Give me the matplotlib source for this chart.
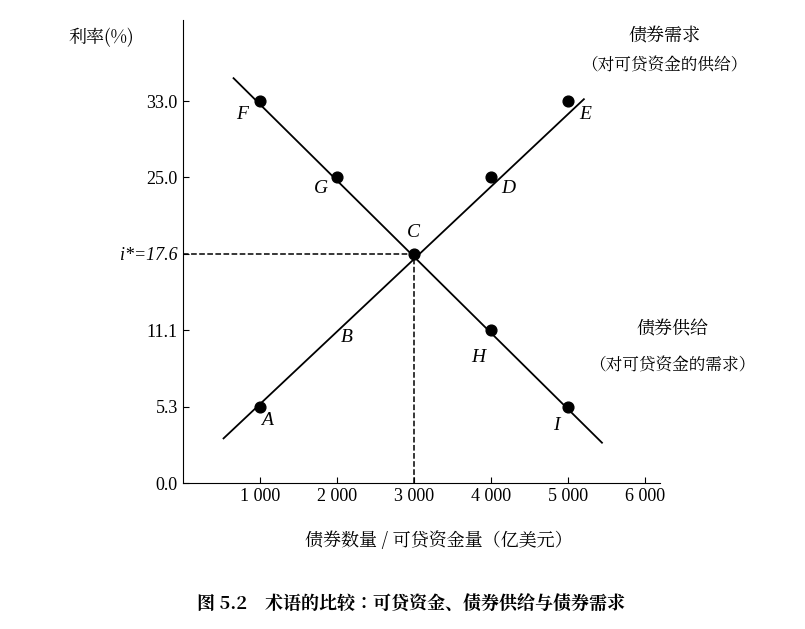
import numpy as np
import matplotlib
matplotlib.use("Agg")
import matplotlib.pyplot as plt
from matplotlib import font_manager

# ---------------- data ----------------
x_ticks = [1000, 2000, 3000, 4000, 5000, 6000]
x_tick_labels = ["1 000", "2 000", "3 000", "4 000", "5 000", "6 000"]
rate_ticks = [0.0, 5.3, 11.1, 17.6, 25.0, 33.0]
rate_tick_labels = ["0.0", "5.3", "11.1", "i*=17.6", "25.0", "33.0"]

demand_names = ["A", "C", "D", "E"]
demand_qty = [1000, 3000, 4000, 5000]
demand_rate = [5.3, 17.6, 25.0, 33.0]
demand_ends_qty = [530, 5210]
demand_ends_rate = [3.1, 33.2]

supply_names = ["F", "G", "H", "I"]
supply_qty = [1000, 2000, 4000, 5000]
supply_rate = [33.0, 25.0, 11.1, 5.3]
supply_ends_qty = [660, 5445]
supply_ends_rate = [35.4, 2.8]

eq_qty, eq_rate = 3000, 17.6

# the rate axis is drawn with equally spaced ticks (not linear in value)
tick_pos = np.arange(len(rate_ticks))
def ry(v):
    v = np.asarray(v, dtype=float)
    return np.where(v > 33.0, 5 + (v - 33.0) / 8.0, np.interp(v, rate_ticks, tick_pos))

# find an installed CJK font
cjk = "DejaVu Sans"
for f in font_manager.fontManager.ttflist:
    if "CJK" in f.name:
        cjk = f.name
        if "SC" in f.name:
            break
serif = "Liberation Serif"

fig = plt.figure(figsize=(8.05, 6.29), dpi=100)
ax = fig.add_axes([0.227, 0.232, 0.593, 0.736])
ax.set_xlim(0, 6200)
ax.set_ylim(0, 6.06)

ax.plot(demand_ends_qty, ry(demand_ends_rate), color="black", lw=1.3)
ax.plot(supply_ends_qty, ry(supply_ends_rate), color="black", lw=1.3)
ax.scatter(demand_qty, ry(demand_rate), s=60, color="black", zorder=3)
ax.scatter(supply_qty, ry(supply_rate), s=60, color="black", zorder=3)

ax.plot([0, eq_qty], [ry(eq_rate)] * 2, ls="--", color="black", lw=1.1)
ax.plot([eq_qty, eq_qty], [0, ry(eq_rate)], ls="--", color="black", lw=1.1)

lab = dict(fontfamily=serif, fontstyle="italic", fontsize=14)
off = {"A": (100, -0.18), "C": (0, 0.28), "D": (230, -0.15), "E": (230, -0.18),
       "F": (-230, -0.18), "G": (-200, -0.15), "H": (-160, -0.35), "I": (-150, -0.25)}
for n, q, r in zip(demand_names, demand_qty, demand_rate):
    dx, dy = off[n]
    ax.text(q + dx, ry(r) + dy, n, ha="center", va="center", **lab)
for n, q, r in zip(supply_names, supply_qty, supply_rate):
    dx, dy = off[n]
    ax.text(q + dx, ry(r) + dy, n, ha="center", va="center", **lab)
ax.text(2130, ry(11.1) - 0.1, "B", ha="center", va="center", **lab)

ax.set_xticks(x_ticks)
ax.set_xticklabels(x_tick_labels, fontfamily=serif, fontsize=13)
ax.set_yticks(tick_pos)
ax.set_yticklabels(rate_tick_labels, fontfamily=serif, fontsize=13)
ax.get_yticklabels()[3].set_fontstyle("italic")
ax.tick_params(direction="in", length=4)
for s in ["top", "right"]:
    ax.spines[s].set_visible(False)

fig.text(0.085, 0.94, "利率(%)", fontfamily=cjk, fontsize=13, va="center")
fig.text(0.825, 0.942, "债券需求", fontfamily=cjk, fontsize=13, ha="center", va="center")
fig.text(0.825, 0.897, "（对可贷资金的供给）", fontfamily=cjk, fontsize=12, ha="center", va="center")
fig.text(0.835, 0.478, "债券供给", fontfamily=cjk, fontsize=13, ha="center", va="center")
fig.text(0.835, 0.420, "（对可贷资金的需求）", fontfamily=cjk, fontsize=12, ha="center", va="center")
fig.text(0.545, 0.140, "债券数量 / 可贷资金量（亿美元）", fontfamily=cjk, fontsize=13, ha="center", va="center")
fig.text(0.51, 0.038, "图 5.2    术语的比较：可贷资金、债券供给与债券需求", fontfamily=cjk,
         fontsize=13, fontweight="bold", ha="center", va="center")

fig.savefig("out.png", dpi=100)
